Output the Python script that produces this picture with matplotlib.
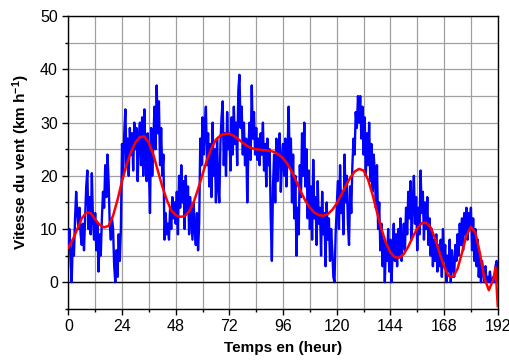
import numpy as np
import matplotlib
matplotlib.use("Agg")
import matplotlib.pyplot as plt
from matplotlib.ticker import MultipleLocator

plt.rcParams["font.family"] = ["Liberation Sans", "DejaVu Sans"]
plt.rcParams["mathtext.fontset"] = "custom"
plt.rcParams["mathtext.rm"] = "Liberation Sans:bold"
plt.rcParams["mathtext.default"] = "rm"

# measured wind speed, one reading every half hour (km/h)
wind_speed = [
    7, 10, 4, 0, 8, 5, 12, 17, 13, 10, 14, 9, 7, 11, 6, 12, 18, 21, 10, 16, 9, 20.5, 12, 8,
    13, 6, 11, 2, 9, 5, 12, 17, 14, 22, 16, 24, 19, 11, 8, 12, 10, 3, 0, 6, 1, 9, 4, 10,
    26, 20, 28, 32.5, 22, 27, 20, 29, 24, 28, 21, 30, 25, 29, 19, 27, 30, 22, 31, 20, 32.5, 24, 19, 28,
    22, 13, 29, 20, 26, 33, 25, 37, 28, 34, 22, 29, 20, 24, 8, 13, 9, 11, 8, 14, 10, 16, 12, 15,
    11, 17, 9, 20, 14, 22, 15, 19, 10, 20, 13, 18, 9, 16, 12, 8, 15, 10, 7, 13, 6, 11, 27, 22,
    31, 24, 29, 33, 22, 28, 18, 26, 16, 30, 20, 25, 15, 27, 18, 15, 26, 31, 34, 22, 28, 20, 32, 25,
    28, 21, 31, 24, 33, 26, 30, 22, 36, 39, 29, 33, 24, 30, 22, 27, 15, 25, 30, 23, 37, 27, 32, 24,
    29, 23, 27, 22, 28, 24, 30, 21, 26, 18, 27, 22, 25, 12, 4, 18, 24, 15, 27, 19, 25, 28, 17, 23,
    26, 20, 27, 18, 24, 33, 22, 27, 15, 24, 12, 20, 5, 14, 9, 22, 16, 28, 20, 30, 18, 25, 12, 21,
    10, 18, 8, 23, 12, 16, 7, 19, 11, 14, 5, 17, 9, 13, 3, 15, 8, 12, 4, 10, 6, 1, 0, 9,
    14, 19, 10, 22, 13, 17, 9, 24, 15, 20, 11, 7, 18, 13, 22, 27, 24, 32, 29, 35, 30, 35, 27, 33,
    24, 31, 20, 28, 22, 30, 19, 26, 17, 24, 21, 14, 22, 10, 15, 6, 11, 3, 8, 0, 7, 4, 10, 2,
    8, 0, 6, 11, 4, 9, 3, 10, 5, 12, 4, 8, 11, 6, 14, 9, 17, 12, 19, 8, 15, 20, 11, 16,
    6, 14, 9, 21, 13, 17, 8, 15, 10, 16, 7, 12, 5, 10, 3, 8, 4, 9, 2, 7, 3, 8, 1, 10,
    4, 7, 0, 5, 2, 8, 0, 6, 3, 1, 7, 4, 9, 5, 11, 7, 12, 6, 13, 9, 14, 8, 13, 10,
    14, 6, 12, 4, 10, 3, 8, 1, 5, 0, 4, 2, 0, 3, 0, 1, 0, 2, 0, 0, 1, 0, 3, 4,
    0,
]
hours = np.arange(len(wind_speed)) * 0.5

# smoothed curve
fit_hours = [
    0, 2, 4, 6, 8, 10, 12, 14, 16, 18, 20, 22, 24, 26, 28, 30, 32, 34, 36, 38,
    40, 42, 44, 46, 48, 50, 52, 54, 56, 58, 60, 62, 64, 66, 68, 70, 72, 74, 76, 78,
    80, 82, 84, 86, 88, 90, 92, 94, 96, 98, 100, 102, 104, 106, 108, 110, 112, 114, 116, 118,
    120, 122, 124, 126, 128, 130, 132, 134, 136, 138, 140, 142, 144, 146, 148, 150, 152, 154, 156, 158,
    160, 162, 164, 166, 168, 170, 172, 174, 176, 178, 180, 182, 184, 186, 188, 190, 191, 192,
]
fit_speed = [
    6.5, 8, 10, 12, 13.1, 13, 11.8, 10.8, 10.3, 10.6, 12.5, 15.5, 19, 22, 24.5, 26.3, 27.3, 27.4, 26.2, 24,
    21, 18, 15.5, 13.5, 12.6, 12.3, 12.4, 13.3, 15, 17.5, 20.3, 23, 25.2, 26.8, 27.6, 27.9, 27.9, 27.5, 26.9, 26.2,
    25.6, 25.2, 25.0, 24.9, 24.8, 24.7, 24.5, 24.0, 23.3, 22.2, 20.7, 18.9, 17.0, 15.3, 14.0, 13.1, 12.6, 12.5, 12.8, 13.6,
    14.8, 16.4, 18.1, 19.6, 20.8, 21.3, 21.0, 19.3, 16.5, 13.2, 10.0, 7.4, 5.6, 4.7, 4.6, 5.3, 6.7, 8.5, 10.1, 11.1,
    11.2, 10.3, 8.2, 5.5, 2.9, 1.2, 1.0, 2.5, 5.5, 8.8, 10.4, 9.3, 5.5, 0.8, -1.5, 0.5, 2.8, -4.5,
]

fig = plt.figure(figsize=(5.10, 3.62), dpi=100)
ax = fig.add_axes([0.134, 0.147, 0.842, 0.808])

ax.plot(hours, wind_speed, color="#0000ff", linewidth=1.7, zorder=3)
ax.plot(fit_hours, fit_speed, color="#ff0000", linewidth=1.8, zorder=4)
ax.axhline(0, color="black", linewidth=1.0, zorder=2)

ax.set_xlim(0, 192)
ax.set_ylim(-5, 50)
ax.xaxis.set_major_locator(MultipleLocator(24))
ax.xaxis.set_minor_locator(MultipleLocator(12))
ax.yaxis.set_major_locator(MultipleLocator(10))
ax.yaxis.set_minor_locator(MultipleLocator(5))

ax.grid(True, which="both", color="#a0a0a0", linewidth=0.9, zorder=1)
ax.set_axisbelow(True)

ax.tick_params(which="major", direction="out", length=4, width=1, labelsize=11.5)
ax.tick_params(which="minor", direction="out", length=2.5, width=1)
for s in ax.spines.values():
    s.set_linewidth(1.0)

ax.set_xlabel("Temps en (heur)", fontsize=11, fontweight="bold", labelpad=5)
ax.set_ylabel(r"Vitesse du vent (km h$^{-1}$)", fontsize=11, fontweight="bold", labelpad=6)

fig.savefig("out.png", dpi=100)
